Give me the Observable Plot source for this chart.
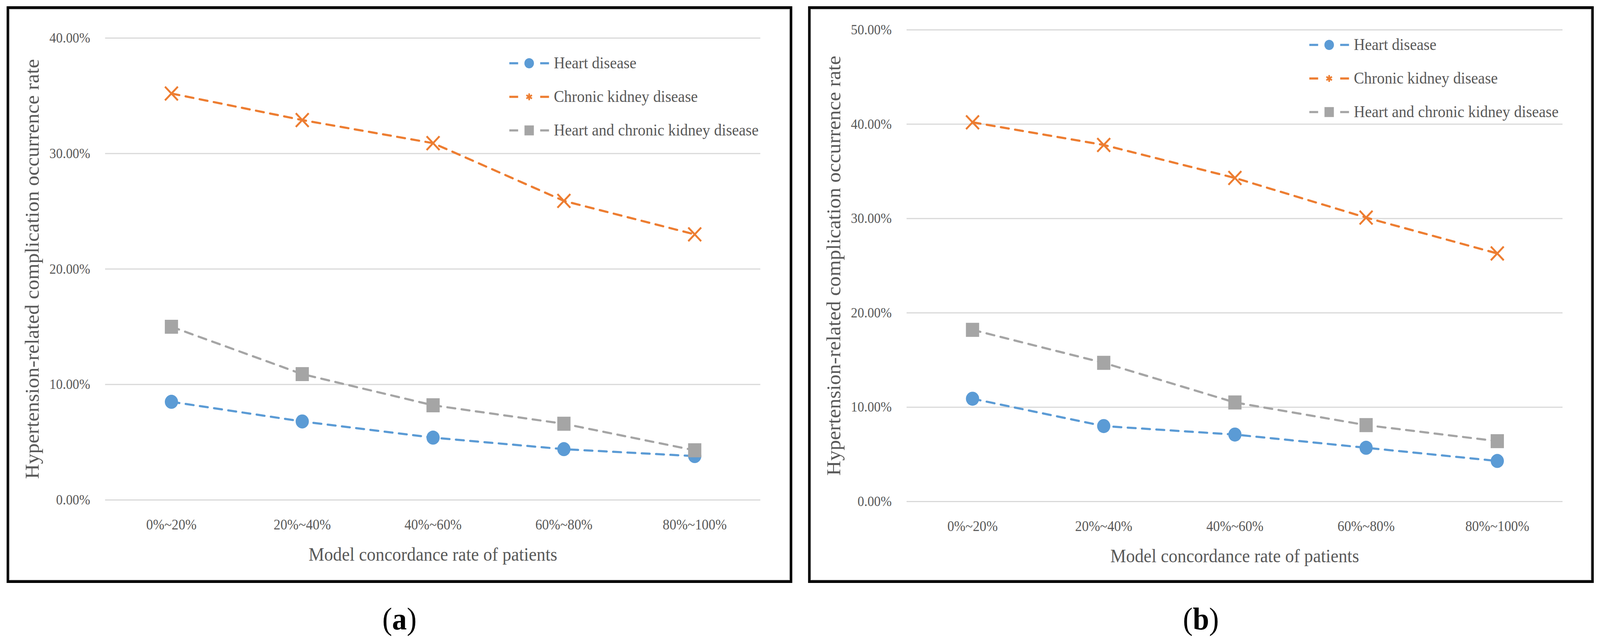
<!DOCTYPE html>
<html><head><meta charset="utf-8">
<script src="https://cdn.jsdelivr.net/npm/d3@7"></script>
<script src="https://cdn.jsdelivr.net/npm/@observablehq/plot@0.6"></script>
<style>
html,body{margin:0;padding:0;background:#fff;overflow:hidden;}
#root{position:relative;width:4354px;height:1634px;overflow:hidden;background:#fff;font-family:"Liberation Serif","Times New Roman",serif;transform-origin:0 0;}
.frame{position:absolute;box-sizing:border-box;border:7px solid #000;}
.inner{position:absolute;left:0;top:0;right:0;bottom:0;border:2px solid #d9d9d9;}
.cap{position:absolute;font-size:80px;color:#000;transform:translateX(-50%);white-space:nowrap;line-height:1;}
.plotwrap{position:absolute;top:0;}
.plotwrap svg{max-width:none !important;}
#legend{position:absolute;left:0;top:0;}
</style></head><body><div id="root"></div>
<script>
// ---- data ----
const categories = ["0%~20%", "20%~40%", "40%~60%", "60%~80%", "80%~100%"];
const seriesNames = ["Heart disease", "Chronic kidney disease", "Heart and chronic kidney disease"];
const colors = ["#5B9BD5", "#ED7D31", "#A5A5A5"];
const symbols = ["circle", "times", "square"];
const xTitle = "Model concordance rate of patients";
const yTitle = "Hypertension-related complication occurrence rate";

const aHeart = [0.085, 0.068, 0.054, 0.044, 0.038];
const aKidney = [0.352, 0.329, 0.309, 0.259, 0.230];
const aBoth = [0.150, 0.109, 0.082, 0.066, 0.043];
const aTicks = [0, 0.1, 0.2, 0.3, 0.4];

const bHeart = [0.109, 0.080, 0.071, 0.057, 0.043];
const bKidney = [0.402, 0.378, 0.343, 0.301, 0.263];
const bBoth = [0.182, 0.147, 0.105, 0.081, 0.064];
const bTicks = [0, 0.1, 0.2, 0.3, 0.4, 0.5];

// ---- layout ----
const panels = [
  {id: "a", values: [aHeart, aKidney, aBoth], ticks: aTicks,
   svgLeft: 0, width: 2170, mL: 286, mR: 101, mT: 97, mB: 220,
   box: [18, 16, 2156, 1493], legend: [1386, 162], cap: 1087},
  {id: "b", values: [bHeart, bKidney, bBoth], ticks: bTicks,
   svgLeft: 2170, width: 2184, mL: 297, mR: 102, mT: 76, mB: 216,
   box: [2199, 16, 4337, 1493], legend: [3563, 115], cap: 3268}
];
const H = 1500;
const root = document.getElementById("root");
const text = "#595959";

for (const p of panels) {
  const fr = document.createElement("div");
  fr.className = "frame";
  fr.style.left = p.box[0] + "px"; fr.style.top = p.box[1] + "px";
  fr.style.width = (p.box[2] - p.box[0]) + "px"; fr.style.height = (p.box[3] - p.box[1]) + "px";
  fr.innerHTML = '<div class="inner"></div>';
  root.appendChild(fr);

  const rows = [];
  seriesNames.forEach((s, i) => p.values[i].forEach((v, j) => rows.push({series: s, cat: categories[j], value: v})));

  const marks = [
    Plot.gridY(p.ticks, {stroke: "#d9d9d9", strokeWidth: 3, strokeOpacity: 1}),
    Plot.axisY(p.ticks, {tickSize: 0, tickPadding: 41, tickFormat: d3.format(".2%"), fontSize: 36, fill: text, label: null}),
    Plot.axisX({tickSize: 0, tickPadding: 49, fontSize: 37, fill: text, label: null})
  ];
  seriesNames.forEach((s, i) => {
    const d = rows.filter(r => r.series === s);
    marks.push(Plot.line(d, {x: "cat", y: "value", stroke: colors[i], strokeWidth: 5.5, strokeDasharray: "22,17"}));
    if (symbols[i] === "times") {
      marks.push(Plot.dot(d, {x: "cat", y: "value", symbol: "times", r: 16, stroke: colors[i], strokeWidth: 5, fill: "none"}));
    } else if (symbols[i] === "square") {
      marks.push(Plot.dot(d, {x: "cat", y: "value", symbol: "square", r: 20.3, fill: colors[i], stroke: "none"}));
    } else {
      marks.push(Plot.dot(d, {x: "cat", y: "value", symbol: "circle", r: 18, fill: colors[i], stroke: "none"}));
    }
  });
  marks.push(Plot.text([xTitle], {text: d => d, frameAnchor: "bottom", lineAnchor: "bottom", dy: 155, fontSize: 48, fill: text}));
  marks.push(Plot.text([yTitle], {text: d => d, frameAnchor: "left", rotate: -90, textAnchor: "middle", lineAnchor: "bottom", dx: -181, fontSize: 53, fill: text}));

  const chart = Plot.plot({
    width: p.width, height: H,
    marginLeft: p.mL, marginRight: p.mR, marginTop: p.mT, marginBottom: p.mB,
    style: {fontFamily: '"Liberation Serif","Times New Roman",serif', fontSize: "36px", background: "transparent", overflow: "visible", color: text},
    x: {type: "point", domain: categories, padding: 0.5},
    y: {domain: [0, d3.max(p.ticks)]},
    marks
  });
  const wrap = document.createElement("div");
  wrap.className = "plotwrap";
  wrap.style.left = p.svgLeft + "px";
  wrap.appendChild(chart);
  root.appendChild(wrap);

  const cap = document.createElement("div");
  cap.className = "cap";
  cap.style.left = p.cap + "px"; cap.style.top = "1545px";
  cap.innerHTML = "(<b>" + p.id + "</b>)";
  root.appendChild(cap);
}

// ---- legends ----
const lg = d3.select(root).append("svg").attr("id", "legend").attr("width", 4354).attr("height", 1634);
for (const p of panels) {
  const [x0, y0] = p.legend;
  seriesNames.forEach((s, i) => {
    const y = y0 + i * 86;
    const g = lg.append("g");
    g.append("line").attr("x1", x0).attr("x2", x0 + 24).attr("y1", y).attr("y2", y).attr("stroke", colors[i]).attr("stroke-width", 5.5);
    g.append("line").attr("x1", x0 + 84).attr("x2", x0 + 108).attr("y1", y).attr("y2", y).attr("stroke", colors[i]).attr("stroke-width", 5.5);
    if (symbols[i] === "times") {
      g.append("path").attr("d", d3.symbol(d3.symbolAsterisk || d3.symbolTimes, 220)()).attr("transform", `translate(${x0 + 54},${y})`)
        .attr("stroke", colors[i]).attr("stroke-width", 4.5).attr("fill", "none");
    } else if (symbols[i] === "square") {
      g.append("path").attr("d", d3.symbol(d3.symbolSquare, 650)()).attr("transform", `translate(${x0 + 54},${y})`).attr("fill", colors[i]);
    } else {
      g.append("circle").attr("cx", x0 + 54).attr("cy", y).attr("r", 13).attr("fill", colors[i]);
    }
    g.append("text").attr("x", x0 + 121).attr("y", y).attr("dy", "0.32em").attr("font-size", 42)
      .attr("font-family", '"Liberation Serif","Times New Roman",serif').attr("fill", text).text(s);
  });
}

// the viewport may be narrower than the 4354x1634 design: stretch the design to fill it
const kx = Math.min(1, window.innerWidth / 4354);
const ky = Math.min(1, window.innerHeight / 1634);
if (kx < 1 || ky < 1) root.style.transform = `scale(${kx},${ky})`;
</script></body></html>
